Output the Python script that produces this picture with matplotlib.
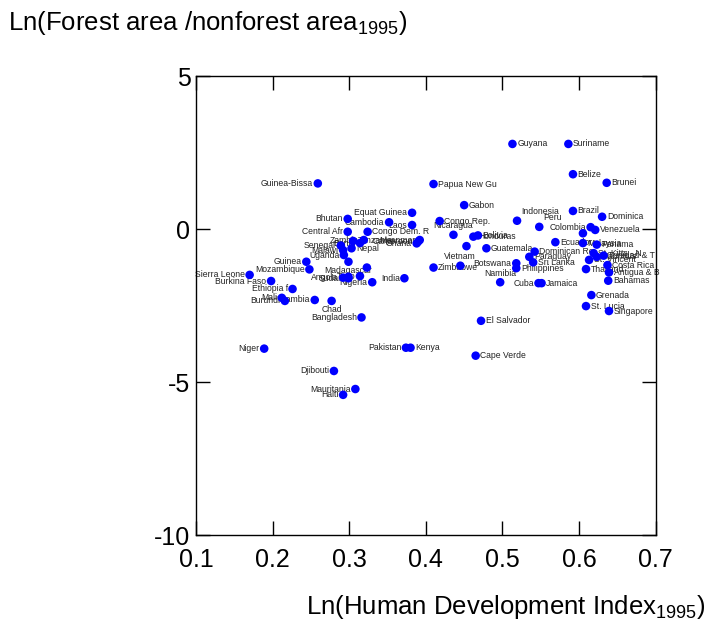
import matplotlib
matplotlib.use("Agg")
import matplotlib.pyplot as plt

plt.rcParams["font.family"] = ["Liberation Sans", "DejaVu Sans"]
plt.rcParams["mathtext.fontset"] = "custom"
plt.rcParams["mathtext.rm"] = "Liberation Sans"
plt.rcParams["axes.unicode_minus"] = False

# country, ln(HDI 1995), ln(forest/nonforest 1995), label position
countries = [
    "Guyana", "Suriname", "Belize", "Brunei", "Papua New Gu", "Guinea-Bissa",
    "Gabon", "Brazil", "Dominica", "Indonesia", "Peru", "Equat Guinea",
    "Bhutan", "Cambodia", "Laos", "Congo Rep.", "Central Afr", "Congo Dem. R",
    "Zambia", "Benin", "Tanzania", "Senegal", "Malawi", "Nepal", "Uganda",
    "Madagascar", "", "Myanmar", "Cameroon", "Ghana", "Nicaragua", "Bolivia",
    "Honduras", "", "Guatemala", "Vietnam", "Zimbabwe", "Dominican Re",
    "Paraguay", "Sri Lanka", "Botswana", "Philippines", "Namibia", "Cuba",
    "Jamaica", "Ecuador", "Colombia", "Venezuela", "", "Malaysia", "Panama",
    "St. Kitts - N", "St. Vincent", "Mauritius", "Trinidad & T", "Thailand",
    "Costa Rica", "Antigua & B", "Bahamas", "Grenada", "St. Lucia",
    "Singapore", "El Salvador", "Cape Verde", "Pakistan", "Kenya", "Niger",
    "Djibouti", "Mauritania", "Haiti", "Bangladesh", "Chad", "Gambia",
    "Burundi", "Mali", "Ethiopia f", "Burkina Faso", "Sierra Leone",
    "Mozambique", "Guinea", "", "Angola", "Sudan", "Togo", "Nigeria", "India",
]
hdi = [
    0.513, 0.586, 0.592, 0.636, 0.410, 0.259,
    0.450, 0.592, 0.630, 0.519, 0.548, 0.382,
    0.298, 0.352, 0.382, 0.418, 0.298, 0.324,
    0.319, 0.314, 0.305, 0.289, 0.292, 0.303, 0.293,
    0.299, 0.323, 0.392, 0.390, 0.388, 0.436, 0.468,
    0.462, 0.453, 0.479, 0.445, 0.410, 0.542,
    0.535, 0.540, 0.518, 0.518, 0.497, 0.547,
    0.551, 0.569, 0.615, 0.621, 0.605, 0.605, 0.623,
    0.619, 0.613, 0.623, 0.632, 0.609,
    0.637, 0.639, 0.638, 0.616, 0.609,
    0.639, 0.472, 0.465, 0.374, 0.380, 0.189,
    0.280, 0.308, 0.292, 0.316, 0.277, 0.255,
    0.216, 0.212, 0.226, 0.198, 0.170,
    0.248, 0.244, 0.299, 0.292, 0.299, 0.314, 0.330, 0.372,
]
forest = [
    2.79, 2.79, 1.80, 1.52, 1.48, 1.50,
    0.79, 0.60, 0.41, 0.28, 0.08, 0.54,
    0.34, 0.23, 0.14, 0.27, -0.08, -0.08,
    -0.35, -0.45, -0.38, -0.53, -0.68, -0.62, -0.84,
    -1.06, -1.25, -0.35, -0.40, -0.46, -0.18, -0.20,
    -0.24, -0.55, -0.62, -1.19, -1.25, -0.73,
    -0.90, -1.08, -1.11, -1.27, -1.73, -1.76,
    -1.76, -0.42, 0.07, -0.02, -0.13, -0.45, -0.50,
    -0.78, -1.00, -0.90, -0.86, -1.30,
    -1.17, -1.41, -1.68, -2.15, -2.51,
    -2.67, -2.99, -4.13, -3.87, -3.87, -3.90,
    -4.63, -5.22, -5.41, -2.88, -2.34, -2.31,
    -2.34, -2.24, -1.95, -1.69, -1.49,
    -1.31, -1.06, -1.55, -1.58, -1.60, -1.53, -1.73, -1.60,
]
label_pos = [
    "r", "r", "r", "r", "r", "l",
    "r", "r", "r", "ur", "ur", "l",
    "l", "l", "l", "r", "l", "r",
    "l", "l", "r", "l", "l", "r", "l",
    "b", "r", "l", "l", "l", "t", "r",
    "r", "r", "r", "t", "r", "r",
    "r", "r", "l", "r", "t", "l",
    "r", "r", "l", "r", "r", "r", "r",
    "r", "r", "r", "r", "r",
    "r", "r", "r", "r", "r",
    "r", "r", "r", "l", "r", "l",
    "l", "l", "l", "l", "b", "l",
    "l", "l", "l", "l", "l",
    "l", "l", "l", "l", "l", "l", "l", "l",
]

x_ticks = [0.1, 0.2, 0.3, 0.4, 0.5, 0.6, 0.7]
y_ticks = [-10, -5, 0, 5]

offsets = {
    "r": ((3.4, 0), "left", "center"),
    "l": ((-3.4, 0), "right", "center"),
    "t": ((0, 6.5), "center", "center"),
    "b": ((0, -6.5), "center", "center"),
    "ur": ((3, 6.5), "left", "center"),
}


def main() -> None:
    fig = plt.figure(figsize=(7.06, 6.23), dpi=100)
    ax = fig.add_axes([0.2776, 0.1408, 0.6512, 0.7367])

    ax.scatter(hdi, forest, s=38, color="#0000ff", edgecolors="none", zorder=3)
    for name, x, y, pos in zip(countries, hdi, forest, label_pos):
        if not name:
            continue
        off, ha, va = offsets[pos]
        ax.annotate(name, (x, y), xytext=off, textcoords="offset points",
                    ha=ha, va=va, fontsize=6.2, color="#222222", zorder=2)

    ax.set_xlim(0.1, 0.7)
    ax.set_ylim(-10, 5)
    ax.set_xticks(x_ticks)
    ax.set_xticklabels([str(t) for t in x_ticks])
    ax.set_yticks(y_ticks)
    ax.tick_params(direction="in", length=10, width=1, top=True, right=True,
                   labelsize=18)
    ax.tick_params(axis="x", pad=9)
    ax.tick_params(axis="y", pad=4)
    for sp in ax.spines.values():
        sp.set_linewidth(1)

    fig.text(8 / 706, 1 - 23 / 623,
             r"Ln(Forest area /nonforest area$_{\mathrm{1995}}$)",
             fontsize=18.5, ha="left", va="center")
    fig.text(1 - 1 / 706, 1 - 607 / 623,
             r"Ln(Human Development Index$_{\mathrm{1995}}$)",
             fontsize=18.5, ha="right", va="center")

    plt.savefig("out.png", format="png", dpi=100)


if __name__ == '__main__':
    main()
